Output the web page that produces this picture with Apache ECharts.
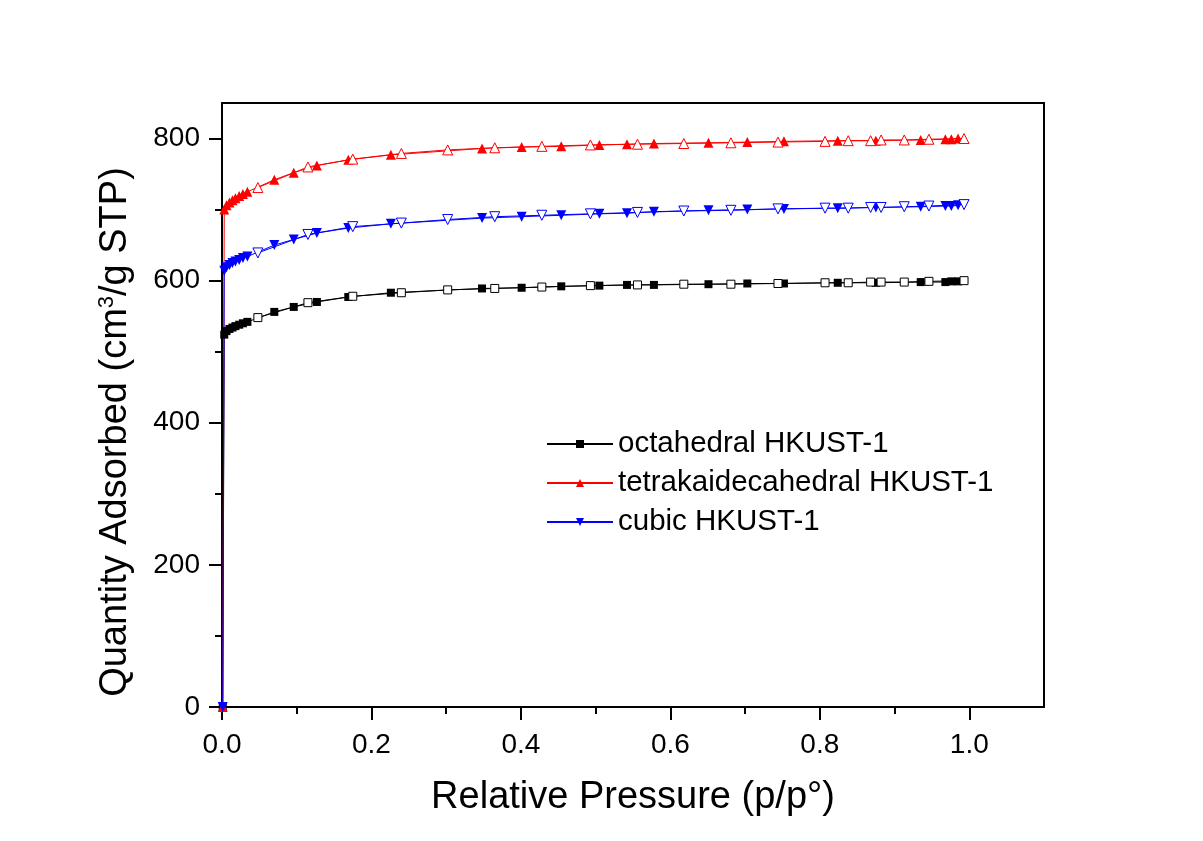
<!DOCTYPE html>
<html>
<head>
<meta charset="utf-8">
<title>HKUST-1 N2 isotherms</title>
<script src="https://cdn.jsdelivr.net/npm/echarts@6/dist/echarts.min.js"></script>
<style>
  html, body { margin: 0; padding: 0; background: #fff; }
  #chart { width: 1203px; height: 841px; }
</style>
</head>
<body>
<div id="chart"></div>
<script>
// relative pressure of the adsorption (filled) and desorption (open) points
var adsP = [0.001, 0.003, 0.006, 0.010, 0.014, 0.018, 0.023, 0.028, 0.034, 0.070, 0.096, 0.127, 0.169, 0.226,
    0.348, 0.401, 0.454, 0.505, 0.542, 0.578, 0.651, 0.703, 0.752, 0.824, 0.875, 0.935, 0.968, 0.976, 0.985];
var desP = [0.993, 0.946, 0.913, 0.882, 0.868, 0.838, 0.807, 0.744, 0.681, 0.618, 0.556, 0.493, 0.428, 0.365,
    0.302, 0.240, 0.175, 0.115, 0.048];

// quantity adsorbed (cm3/g STP)
var octaAds = [0, 524, 529, 532, 534, 536, 538, 540, 542, 556, 563, 570, 577, 583,
    589, 590, 592, 593, 594, 594, 595, 596, 596, 597, 597, 598, 598, 599, 599];
var octaDes = [600, 599, 598, 598, 598, 597, 597, 596, 595, 595, 594, 593, 591, 589, 587, 583, 578, 569, 548];

var tetraAds = [0, 700, 706, 710, 713, 716, 719, 722, 725, 742, 752, 762, 770, 777,
    786, 788, 789, 791, 792, 793, 794, 795, 796, 797, 797, 798, 799, 799, 800];
var tetraDes = [800, 799, 798, 798, 797, 797, 796, 795, 794, 793, 792, 791, 789, 787, 784, 779, 771, 760, 731];

var cubicAds = [0, 614, 619, 622, 625, 627, 629, 632, 634, 650, 658, 667, 674, 680,
    688, 690, 692, 694, 695, 697, 699, 700, 701, 702, 703, 704, 705, 705, 706];
var cubicDes = [707, 705, 704, 703, 703, 702, 702, 701, 699, 698, 696, 694, 692, 690, 686, 681, 676, 665, 639];

var names = ['octahedral HKUST-1', 'tetrakaidecahedral HKUST-1', 'cubic HKUST-1'];
var xMajor = [0, 0.2, 0.4, 0.6, 0.8, 1.0];
var xMinor = [0.1, 0.3, 0.5, 0.7, 0.9];
var yMajor = [0, 200, 400, 600, 800];
var yMinor = [100, 300, 500, 700];

function pairs(xs, ys) {
    var out = [];
    for (var i = 0; i < xs.length; i++) out.push([xs[i], ys[i]]);
    return out;
}

var FONT = 'Liberation Sans, Arial, sans-serif';

// one filled (adsorption) and one open (desorption) series per sample
function makeSeries(name, color, symbol, rotate, ads, des) {
    var size = symbol == 'rect' ? 8 : 10;
    return [{
        name: name,
        type: 'line',
        data: pairs(adsP, ads),
        symbol: symbol,
        symbolRotate: rotate,
        symbolSize: size,
        lineStyle: { color: color, width: 1 },
        itemStyle: { color: color, borderWidth: 0 },
        z: 3
    }, {
        name: name,
        type: 'line',
        data: pairs(desP, des),
        symbol: symbol,
        symbolRotate: rotate,
        symbolSize: size,
        lineStyle: { color: color, width: 1 },
        itemStyle: { color: '#fff', borderColor: color, borderWidth: 1 },
        z: 3
    }];
}

var myChart = echarts.init(document.getElementById('chart'));

var option = {
    backgroundColor: '#fff',
    animation: false,
    textStyle: { fontFamily: FONT },
    grid: {
        left: 222, right: 159, top: 103, bottom: 134,
        show: true, borderColor: '#000', borderWidth: 2, backgroundColor: 'transparent'
    },
    legend: {
        data: names,
        orient: 'vertical',
        left: 541,
        top: 424,
        itemWidth: 66,
        itemHeight: 10,
        itemGap: 9,
        textStyle: { fontSize: 29.5, color: '#000', fontFamily: FONT }
    },
    xAxis: [{
        type: 'value',
        min: 0, max: 1.1,
        name: 'Relative Pressure (p/p°)',
        nameLocation: 'middle',
        nameGap: 72,
        nameTextStyle: { fontSize: 38, color: '#000', fontFamily: FONT },
        axisLine: { lineStyle: { color: '#000', width: 2 } },
        axisTick: { customValues: xMajor, length: 13, lineStyle: { color: '#000', width: 2 } },
        axisLabel: {
            customValues: xMajor, margin: 24, fontSize: 28, color: '#000', fontFamily: FONT,
            formatter: function(v) { return v.toFixed(1); }
        },
        splitLine: { show: false }
    }, {
        // minor ticks only
        type: 'value', min: 0, max: 1.1, position: 'bottom',
        axisLine: { show: false },
        axisTick: { customValues: xMinor, length: 7, lineStyle: { color: '#000', width: 2 } },
        axisLabel: { show: false },
        splitLine: { show: false }
    }],
    yAxis: [{
        type: 'value',
        min: 0, max: 850,
        name: 'Quantity Adsorbed (cm{sup|3}/g STP)',
        nameLocation: 'middle',
        nameGap: 86,
        nameTextStyle: {
            fontSize: 38, color: '#000', fontFamily: FONT,
            padding: [0, 54, 0, 0],
            rich: { sup: { fontSize: 22, verticalAlign: 'top', padding: [0, 0, 18, 0], color: '#000', fontFamily: FONT } }
        },
        axisLine: { show: true, lineStyle: { color: '#000', width: 2 } },
        axisTick: { show: true, customValues: yMajor, length: 13, lineStyle: { color: '#000', width: 2 } },
        axisLabel: { customValues: yMajor, margin: 22, fontSize: 28, color: '#000', fontFamily: FONT },
        splitLine: { show: false }
    }, {
        type: 'value', min: 0, max: 850, position: 'left',
        axisLine: { show: false },
        axisTick: { show: true, customValues: yMinor, length: 7, lineStyle: { color: '#000', width: 2 } },
        axisLabel: { show: false },
        splitLine: { show: false }
    }],
    series: [].concat(
        makeSeries(names[0], '#000000', 'rect', 0, octaAds, octaDes),
        makeSeries(names[1], '#ff0000', 'triangle', 0, tetraAds, tetraDes),
        makeSeries(names[2], '#0000ff', 'triangle', 180, cubicAds, cubicDes)
    )
};

myChart.setOption(option);
</script>
</body>
</html>
